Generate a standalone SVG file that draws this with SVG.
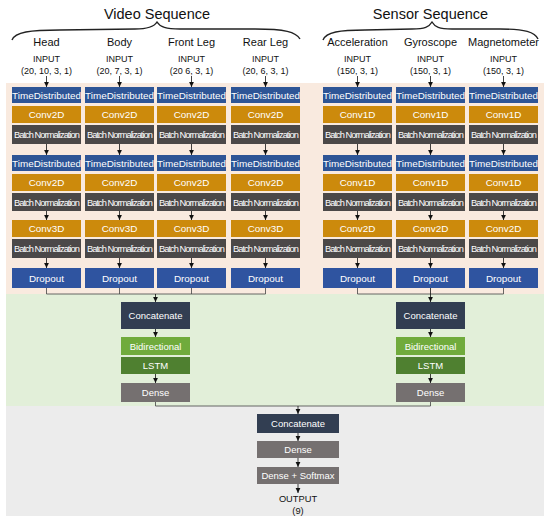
<svg xmlns="http://www.w3.org/2000/svg" width="550" height="522" viewBox="0 0 550 522">
<defs>
<marker id="ah" markerWidth="6" markerHeight="6" refX="5" refY="3" orient="auto" markerUnits="userSpaceOnUse"><path d="M0,0.6 L5,3 L0,5.4 z" fill="#111"/></marker>
<style>
text{font-family:"Liberation Sans",Arial,sans-serif;}
.ttl{font-size:14.5px;fill:#111;text-anchor:middle;}
.lbl{font-size:11px;fill:#111;text-anchor:middle;}
.inp{font-size:9px;fill:#111;text-anchor:middle;}
.bt{font-size:9.9px;fill:#fff;text-anchor:middle;}
.bn{font-size:9.5px;fill:#fff;text-anchor:middle;}
.nt{font-size:9.3px;fill:#fff;text-anchor:middle;letter-spacing:-0.95px;}
.td{fill:#2e5596;}
.cv{fill:#cc8a0c;}
.nm{fill:#4b4848;}
.dr{fill:#2f54a0;}
.cc{fill:#323e52;}
.bi{fill:#70ab3c;}
.ls{fill:#4f8030;}
.de{fill:#757070;}
.ln{stroke:#444;stroke-width:0.8;fill:none;}
.ar{stroke:#111;stroke-width:0.8;fill:none;marker-end:url(#ah);}
.br{stroke:#222;stroke-width:1.4;fill:none;}
</style>
</defs>
<rect x="0" y="0" width="550" height="522" fill="#fff"/>
<rect x="6" y="83" width="538" height="211" fill="#f9eadf"/>
<rect x="6" y="294" width="538" height="112" fill="#e2efd9"/>
<rect x="6" y="406" width="538" height="110" fill="#ececec"/>

<g id="headers">
<text class="ttl" x="157" y="19">Video Sequence</text>
<text class="ttl" x="430.5" y="19">Sensor Sequence</text>
<path class="br" d="M12,40 C15,32 30,30 60,30 L135,29 C148,29 154,27 157,22 C160,27 166,29 180,29 L255,29 C285,29 296,32 300,39"/>
<path class="br" d="M323,40 C326,32 340,30 365,30 L412,29 C425,29 429,27 432,22 C435,27 439,29 452,29 L500,29 C525,29 535,32 538,39"/>
</g>

<g id="connectors">
<line class="ar" x1="46.5" y1="76" x2="46.5" y2="87"/>
<line class="ar" x1="119.5" y1="76" x2="119.5" y2="87"/>
<line class="ar" x1="191.5" y1="76" x2="191.5" y2="87"/>
<line class="ar" x1="265.5" y1="76" x2="265.5" y2="87"/>
<line class="ar" x1="357.5" y1="76" x2="357.5" y2="87"/>
<line class="ar" x1="430.5" y1="76" x2="430.5" y2="87"/>
<line class="ar" x1="503.5" y1="76" x2="503.5" y2="87"/>
<path class="ar" d="M46.5,144 V155"/><path class="ar" d="M119.5,144 V155"/><path class="ar" d="M191.5,144 V155"/><path class="ar" d="M265.5,144 V155"/>
<path class="ar" d="M357.5,144 V155"/><path class="ar" d="M430.5,144 V155"/><path class="ar" d="M503.5,144 V155"/>
<path class="ar" d="M46.5,211 V220"/><path class="ar" d="M119.5,211 V220"/><path class="ar" d="M191.5,211 V220"/><path class="ar" d="M265.5,211 V220"/>
<path class="ar" d="M357.5,211 V220"/><path class="ar" d="M430.5,211 V220"/><path class="ar" d="M503.5,211 V220"/>
<path class="ar" d="M46.5,258 V268"/><path class="ar" d="M119.5,258 V268"/><path class="ar" d="M191.5,258 V268"/><path class="ar" d="M265.5,258 V268"/>
<path class="ar" d="M357.5,258 V268"/><path class="ar" d="M430.5,258 V268"/><path class="ar" d="M503.5,258 V268"/>
<path class="ln" d="M46.5,288 V294 H265.5 V288 M119.5,288 V294 M191.5,288 V294"/>
<line class="ar" x1="155.5" y1="294" x2="155.5" y2="302"/>
<path class="ln" d="M357.5,288 V294 H503.5 V288"/>
<line class="ar" x1="430.5" y1="288" x2="430.5" y2="302"/>
<line class="ar" x1="155.5" y1="329" x2="155.5" y2="337"/>
<line class="ar" x1="430.5" y1="329" x2="430.5" y2="337"/>
<line class="ar" x1="155.5" y1="374" x2="155.5" y2="383"/>
<line class="ar" x1="430.5" y1="374" x2="430.5" y2="383"/>
<path class="ln" d="M155.5,402 V406 H430.5 V402"/>
<line class="ar" x1="298" y1="406" x2="298" y2="414"/>
<line class="ar" x1="298" y1="433" x2="298" y2="441"/>
<line class="ar" x1="298" y1="458" x2="298" y2="467"/>
<line class="ar" x1="298" y1="484" x2="298" y2="493"/>
</g>

<g id="col-head">
<text class="lbl" x="46.5" y="46">Head</text>
<text class="inp" x="46.5" y="62">INPUT</text>
<text class="inp" x="46.5" y="74">(20, 10, 3, 1)</text>
<rect class="td" x="12" y="87" width="69" height="16"/><text class="bt" x="46.5" y="98.5">TimeDistributed</text>
<rect class="cv" x="12" y="106" width="69" height="17"/><text class="bt" x="46.5" y="118">Conv2D</text>
<rect class="nm" x="12" y="125" width="69" height="19"/><text class="nt" x="46.5" y="138">Batch Normalization</text>
<rect class="td" x="12" y="155" width="69" height="16"/><text class="bt" x="46.5" y="166.5">TimeDistributed</text>
<rect class="cv" x="12" y="174" width="69" height="17"/><text class="bt" x="46.5" y="186">Conv2D</text>
<rect class="nm" x="12" y="193" width="69" height="18"/><text class="nt" x="46.5" y="205.5">Batch Normalization</text>
<rect class="cv" x="12" y="220" width="69" height="17"/><text class="bt" x="46.5" y="232">Conv3D</text>
<rect class="nm" x="12" y="239" width="69" height="19"/><text class="nt" x="46.5" y="252">Batch Normalization</text>
<rect class="dr" x="12" y="268" width="69" height="20"/><text class="bt" x="46.5" y="281.5">Dropout</text>
</g>

<g id="col-body">
<text class="lbl" x="119.5" y="46">Body</text>
<text class="inp" x="119.5" y="62">INPUT</text>
<text class="inp" x="119.5" y="74">(20, 7, 3, 1)</text>
<rect class="td" x="85" y="87" width="69" height="16"/><text class="bt" x="119.5" y="98.5">TimeDistributed</text>
<rect class="cv" x="85" y="106" width="69" height="17"/><text class="bt" x="119.5" y="118">Conv2D</text>
<rect class="nm" x="85" y="125" width="69" height="19"/><text class="nt" x="119.5" y="138">Batch Normalization</text>
<rect class="td" x="85" y="155" width="69" height="16"/><text class="bt" x="119.5" y="166.5">TimeDistributed</text>
<rect class="cv" x="85" y="174" width="69" height="17"/><text class="bt" x="119.5" y="186">Conv2D</text>
<rect class="nm" x="85" y="193" width="69" height="18"/><text class="nt" x="119.5" y="205.5">Batch Normalization</text>
<rect class="cv" x="85" y="220" width="69" height="17"/><text class="bt" x="119.5" y="232">Conv3D</text>
<rect class="nm" x="85" y="239" width="69" height="19"/><text class="nt" x="119.5" y="252">Batch Normalization</text>
<rect class="dr" x="85" y="268" width="69" height="20"/><text class="bt" x="119.5" y="281.5">Dropout</text>
</g>

<g id="col-frontleg">
<text class="lbl" x="191.5" y="46">Front Leg</text>
<text class="inp" x="191.5" y="62">INPUT</text>
<text class="inp" x="191.5" y="74">(20 6, 3, 1)</text>
<rect class="td" x="157" y="87" width="69" height="16"/><text class="bt" x="191.5" y="98.5">TimeDistributed</text>
<rect class="cv" x="157" y="106" width="69" height="17"/><text class="bt" x="191.5" y="118">Conv2D</text>
<rect class="nm" x="157" y="125" width="69" height="19"/><text class="nt" x="191.5" y="138">Batch Normalization</text>
<rect class="td" x="157" y="155" width="69" height="16"/><text class="bt" x="191.5" y="166.5">TimeDistributed</text>
<rect class="cv" x="157" y="174" width="69" height="17"/><text class="bt" x="191.5" y="186">Conv2D</text>
<rect class="nm" x="157" y="193" width="69" height="18"/><text class="nt" x="191.5" y="205.5">Batch Normalization</text>
<rect class="cv" x="157" y="220" width="69" height="17"/><text class="bt" x="191.5" y="232">Conv3D</text>
<rect class="nm" x="157" y="239" width="69" height="19"/><text class="nt" x="191.5" y="252">Batch Normalization</text>
<rect class="dr" x="157" y="268" width="69" height="20"/><text class="bt" x="191.5" y="281.5">Dropout</text>
</g>

<g id="col-rearleg">
<text class="lbl" x="265.5" y="46">Rear Leg</text>
<text class="inp" x="265.5" y="62">INPUT</text>
<text class="inp" x="265.5" y="74">(20, 6, 3, 1)</text>
<rect class="td" x="231" y="87" width="69" height="16"/><text class="bt" x="265.5" y="98.5">TimeDistributed</text>
<rect class="cv" x="231" y="106" width="69" height="17"/><text class="bt" x="265.5" y="118">Conv2D</text>
<rect class="nm" x="231" y="125" width="69" height="19"/><text class="nt" x="265.5" y="138">Batch Normalization</text>
<rect class="td" x="231" y="155" width="69" height="16"/><text class="bt" x="265.5" y="166.5">TimeDistributed</text>
<rect class="cv" x="231" y="174" width="69" height="17"/><text class="bt" x="265.5" y="186">Conv2D</text>
<rect class="nm" x="231" y="193" width="69" height="18"/><text class="nt" x="265.5" y="205.5">Batch Normalization</text>
<rect class="cv" x="231" y="220" width="69" height="17"/><text class="bt" x="265.5" y="232">Conv3D</text>
<rect class="nm" x="231" y="239" width="69" height="19"/><text class="nt" x="265.5" y="252">Batch Normalization</text>
<rect class="dr" x="231" y="268" width="69" height="20"/><text class="bt" x="265.5" y="281.5">Dropout</text>
</g>

<g id="col-acceleration">
<text class="lbl" x="357.5" y="46">Acceleration</text>
<text class="inp" x="357.5" y="62">INPUT</text>
<text class="inp" x="357.5" y="74">(150, 3, 1)</text>
<rect class="td" x="323" y="87" width="69" height="16"/><text class="bt" x="357.5" y="98.5">TimeDistributed</text>
<rect class="cv" x="323" y="106" width="69" height="17"/><text class="bt" x="357.5" y="118">Conv1D</text>
<rect class="nm" x="323" y="125" width="69" height="19"/><text class="nt" x="357.5" y="138">Batch Normalization</text>
<rect class="td" x="323" y="155" width="69" height="16"/><text class="bt" x="357.5" y="166.5">TimeDistributed</text>
<rect class="cv" x="323" y="174" width="69" height="17"/><text class="bt" x="357.5" y="186">Conv1D</text>
<rect class="nm" x="323" y="193" width="69" height="18"/><text class="nt" x="357.5" y="205.5">Batch Normalization</text>
<rect class="cv" x="323" y="220" width="69" height="17"/><text class="bt" x="357.5" y="232">Conv2D</text>
<rect class="nm" x="323" y="239" width="69" height="19"/><text class="nt" x="357.5" y="252">Batch Normalization</text>
<rect class="dr" x="323" y="268" width="69" height="20"/><text class="bt" x="357.5" y="281.5">Dropout</text>
</g>

<g id="col-gyroscope">
<text class="lbl" x="430.5" y="46">Gyroscope</text>
<text class="inp" x="430.5" y="62">INPUT</text>
<text class="inp" x="430.5" y="74">(150, 3, 1)</text>
<rect class="td" x="396" y="87" width="69" height="16"/><text class="bt" x="430.5" y="98.5">TimeDistributed</text>
<rect class="cv" x="396" y="106" width="69" height="17"/><text class="bt" x="430.5" y="118">Conv1D</text>
<rect class="nm" x="396" y="125" width="69" height="19"/><text class="nt" x="430.5" y="138">Batch Normalization</text>
<rect class="td" x="396" y="155" width="69" height="16"/><text class="bt" x="430.5" y="166.5">TimeDistributed</text>
<rect class="cv" x="396" y="174" width="69" height="17"/><text class="bt" x="430.5" y="186">Conv1D</text>
<rect class="nm" x="396" y="193" width="69" height="18"/><text class="nt" x="430.5" y="205.5">Batch Normalization</text>
<rect class="cv" x="396" y="220" width="69" height="17"/><text class="bt" x="430.5" y="232">Conv2D</text>
<rect class="nm" x="396" y="239" width="69" height="19"/><text class="nt" x="430.5" y="252">Batch Normalization</text>
<rect class="dr" x="396" y="268" width="69" height="20"/><text class="bt" x="430.5" y="281.5">Dropout</text>
</g>

<g id="col-magnetometer">
<text class="lbl" x="503.5" y="46">Magnetometer</text>
<text class="inp" x="503.5" y="62">INPUT</text>
<text class="inp" x="503.5" y="74">(150, 3, 1)</text>
<rect class="td" x="469" y="87" width="69" height="16"/><text class="bt" x="503.5" y="98.5">TimeDistributed</text>
<rect class="cv" x="469" y="106" width="69" height="17"/><text class="bt" x="503.5" y="118">Conv1D</text>
<rect class="nm" x="469" y="125" width="69" height="19"/><text class="nt" x="503.5" y="138">Batch Normalization</text>
<rect class="td" x="469" y="155" width="69" height="16"/><text class="bt" x="503.5" y="166.5">TimeDistributed</text>
<rect class="cv" x="469" y="174" width="69" height="17"/><text class="bt" x="503.5" y="186">Conv1D</text>
<rect class="nm" x="469" y="193" width="69" height="18"/><text class="nt" x="503.5" y="205.5">Batch Normalization</text>
<rect class="cv" x="469" y="220" width="69" height="17"/><text class="bt" x="503.5" y="232">Conv2D</text>
<rect class="nm" x="469" y="239" width="69" height="19"/><text class="nt" x="503.5" y="252">Batch Normalization</text>
<rect class="dr" x="469" y="268" width="69" height="20"/><text class="bt" x="503.5" y="281.5">Dropout</text>
</g>

<g id="video-fusion">
<rect class="cc" x="121" y="302" width="69" height="27"/><text class="bn" x="155.5" y="319">Concatenate</text>
<rect class="bi" x="121" y="337" width="69" height="18"/><text class="bn" x="155.5" y="349.5">Bidirectional</text>
<rect class="ls" x="121" y="357" width="69" height="17"/><text class="bn" x="155.5" y="369">LSTM</text>
<rect class="de" x="121" y="383" width="69" height="19"/><text class="bn" x="155.5" y="396">Dense</text>
</g>

<g id="sensor-fusion">
<rect class="cc" x="396" y="302" width="69" height="27"/><text class="bn" x="430.5" y="319">Concatenate</text>
<rect class="bi" x="396" y="337" width="69" height="18"/><text class="bn" x="430.5" y="349.5">Bidirectional</text>
<rect class="ls" x="396" y="357" width="69" height="17"/><text class="bn" x="430.5" y="369">LSTM</text>
<rect class="de" x="396" y="383" width="69" height="19"/><text class="bn" x="430.5" y="396">Dense</text>
</g>

<g id="final">
<rect class="cc" x="257" y="414" width="82" height="19"/><text class="bn" x="298" y="427">Concatenate</text>
<rect class="de" x="257" y="441" width="82" height="17"/><text class="bn" x="298" y="453">Dense</text>
<rect class="de" x="257" y="467" width="82" height="17"/><text class="bn" x="298" y="479">Dense + Softmax</text>
<text class="inp" x="298" y="502" style="font-size:9.3px">OUTPUT</text>
<text class="inp" x="298" y="514" style="font-size:9.3px">(9)</text>
</g>
</svg>
